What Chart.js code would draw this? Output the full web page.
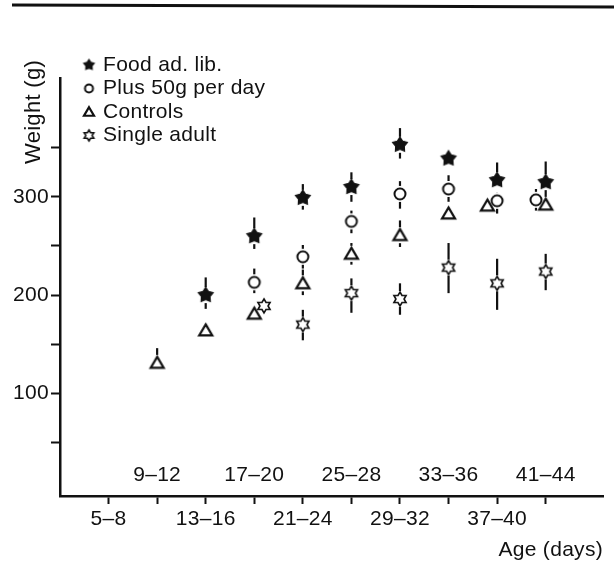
<!DOCTYPE html>
<html lang="en">
<head>
<meta charset="utf-8">
<title>Weight by age</title>
<script src="https://cdn.jsdelivr.net/npm/chart.js@4.4.1/dist/chart.umd.min.js"></script>
<style>
  html, body { margin: 0; padding: 0; background: #fff; }
  #wrap { position: relative; width: 614px; height: 565px; }
</style>
</head>
<body>
<div id="wrap"><canvas id="chart" width="614" height="565"></canvas></div>
<script>
// age groups (days) along the x axis, one per tick
const ageGroups = ['5–8', '9–12', '13–16', '17–20', '21–24', '25–28', '29–32', '33–36', '37–40', '41–44'];

// x = age group index (small nudges where symbols were set side by side)
const foodX = [2, 3, 4, 5, 6, 7, 8, 9];
const foodY = [200, 260, 299, 310, 353, 339, 317, 315];
const foodHi = [218, 279, 313, 325, 370, null, 335, 336];
const foodLo = [186, 247, 287, 295, 339, null, null, 300];

const plusX = [3, 4, 5, 6, 7, 8, 8.8];
const plusY = [213, 239, 275, 303, 308, 296, 297];
const plusHi = [227, 251, 286, 316, 322, 304, 308];
const plusLo = [202, 227, 263, 288, 295, 283, 286];

const ctrlX = [1, 2, 3, 4, 5, 6, 7, 7.8, 9];
const ctrlY = [131, 164, 181, 212, 242, 261, 283, 291, 292];
const ctrlHi = [146, null, null, 226, 253, 276, null, null, null];
const ctrlLo = [null, null, null, 200, 231, 249, null, null, null];

const singleX = [3.2, 4, 5, 6, 7, 8, 9];
const singleY = [189, 170, 202, 196, 228, 212, 224];
const singleHi = [null, 185, 217, 212, 253, 237, 242];
const singleLo = [null, 154, 182, 180, 202, 185, 205];

const yTicks = [50, 100, 150, 200, 250, 300, 350];
const yLabels = [100, 200, 300];

const FONT = "'Liberation Sans', Arial, Helvetica, sans-serif";
const INK = '#111';

function icon(size, draw) {
  const c = document.createElement('canvas');
  c.width = size; c.height = size;
  const g = c.getContext('2d');
  g.translate(size / 2, size / 2);
  g.strokeStyle = INK; g.fillStyle = INK; g.lineJoin = 'miter';
  draw(g);
  return c;
}
function starPath(g, R, r, n, rot) {
  g.beginPath();
  for (let k = 0; k < n * 2; k++) {
    const rad = k % 2 ? r : R;
    const a = rot + k * Math.PI / n;
    g.lineTo(rad * Math.cos(a), rad * Math.sin(a));
  }
  g.closePath();
}
const mkStar = R => icon(Math.ceil(R * 2 + 4), g => {
  starPath(g, R, R * 0.58, 5, -Math.PI / 2); g.fill(); g.lineWidth = 1.2; g.stroke();
});
const mkCircle = r => icon(Math.ceil(r * 2 + 5), g => {
  g.beginPath(); g.arc(0, 0, r, 0, Math.PI * 2);
  g.fillStyle = '#fff'; g.fill(); g.lineWidth = 2; g.stroke();
});
const mkTri = s => icon(Math.ceil(s * 2 + 6), g => {
  g.beginPath(); g.moveTo(0, -s * 0.95); g.lineTo(s, s * 0.75); g.lineTo(-s, s * 0.75); g.closePath();
  g.fillStyle = '#fff'; g.fill(); g.lineWidth = 2.2; g.stroke();
});
const mkHex = R => icon(Math.ceil(R * 2 + 4), g => {
  starPath(g, R, R / Math.sqrt(3), 6, -Math.PI / 2);
  g.fillStyle = '#fff'; g.fill(); g.lineWidth = 1.6; g.stroke();
});

function pts(xs, ys) { return xs.map((x, i) => ({ x: x, y: ys[i] })); }

const datasets = [
  { label: 'Food ad. lib.', data: pts(foodX, foodY), hi: foodHi, lo: foodLo,
    pointStyle: mkStar(7.8), legendIcon: mkStar(5.5) },
  { label: 'Plus 50g per day', data: pts(plusX, plusY), hi: plusHi, lo: plusLo,
    pointStyle: mkCircle(5.5), legendIcon: mkCircle(4) },
  { label: 'Controls', data: pts(ctrlX, ctrlY), hi: ctrlHi, lo: ctrlLo,
    pointStyle: mkTri(6.5), legendIcon: mkTri(5) },
  { label: 'Single adult', data: pts(singleX, singleY), hi: singleHi, lo: singleLo,
    pointStyle: mkHex(7), legendIcon: mkHex(5.5) }
];

// vertical error bars, broken around the symbol
const errorBars = {
  id: 'errorBars',
  beforeDatasetsDraw(chart) {
    const { ctx, scales: { x, y } } = chart;
    ctx.save();
    ctx.strokeStyle = INK; ctx.lineWidth = 2.2;
    chart.data.datasets.forEach(ds => {
      ds.data.forEach((p, i) => {
        const px = x.getPixelForValue(p.x), py = y.getPixelForValue(p.y);
        const gap = 8;
        if (ds.hi[i] != null) {
          ctx.beginPath(); ctx.moveTo(px, y.getPixelForValue(ds.hi[i])); ctx.lineTo(px, py - gap); ctx.stroke();
        }
        if (ds.lo[i] != null) {
          ctx.beginPath(); ctx.moveTo(px, py + gap); ctx.lineTo(px, y.getPixelForValue(ds.lo[i])); ctx.stroke();
        }
      });
    });
    ctx.restore();
  }
};

// legend in the top-left corner, y title, odd age groups written above the axis
const extras = {
  id: 'extras',
  beforeDraw(chart) { chart.ctx.letterSpacing = '0.3px'; },
  afterDraw(chart) {
    const { ctx, chartArea, scales: { x } } = chart;
    ctx.save();
    ctx.fillStyle = INK;
    ctx.font = '21px ' + FONT;
    ctx.textBaseline = 'middle';

    chart.data.datasets.forEach((ds, i) => {
      const ly = 65 + i * 23.5;
      const img = ds.legendIcon;
      ctx.drawImage(img, 89 - img.width / 2, ly - img.height / 2);
      ctx.textAlign = 'left';
      ctx.fillText(ds.label, 103, ly);
    });

    ctx.textAlign = 'center';
    ageGroups.forEach((lab, i) => {
      if (i % 2 === 1) ctx.fillText(lab, x.getPixelForValue(i), chartArea.bottom - 21);
    });

    ctx.translate(34, 112);
    ctx.rotate(-Math.PI / 2);
    ctx.font = '22px ' + FONT;
    ctx.fillText('Weight (g)', 0, 0);
    ctx.restore();

    // rule at the top of the page
    ctx.save();
    ctx.strokeStyle = INK; ctx.lineWidth = 3;
    ctx.beginPath(); ctx.moveTo(12, 5); ctx.lineTo(614, 7); ctx.stroke();
    ctx.restore();
  }
};

Chart.defaults.font.family = FONT;
Chart.defaults.font.size = 21;
Chart.defaults.color = INK;

new Chart(document.getElementById('chart'), {
  type: 'scatter',
  data: { datasets: datasets },
  options: {
    responsive: false,
    animation: false,
    layout: { padding: { top: 78, right: 11, left: 0, bottom: 0 } },
    plugins: { legend: { display: false }, tooltip: { enabled: false } },
    elements: { point: { radius: 7 } },
    scales: {
      x: {
        type: 'linear', min: -1, max: 10.18,
        afterBuildTicks: s => { s.ticks = ageGroups.map((_, i) => ({ value: i })); },
        afterFit: s => { s.height = 69; },
        ticks: {
          autoSkip: false, maxRotation: 0, padding: 3,
          callback: v => (v % 2 === 0 ? ageGroups[v] : '')
        },
        grid: { drawOnChartArea: false, tickLength: 8, tickColor: INK, tickWidth: 2 },
        border: { color: INK, width: 2.5 },
        title: { display: true, text: 'Age (days)', align: 'end', padding: { top: 0, bottom: 2 } }
      },
      y: {
        min: -4.5, max: 421,
        afterBuildTicks: s => { s.ticks = yTicks.map(v => ({ value: v })); },
        afterFit: s => { s.width = 60; },
        ticks: {
          padding: 2,
          callback: v => (yLabels.includes(v) ? String(v) : '')
        },
        grid: { drawOnChartArea: false, tickLength: 9, tickColor: INK, tickWidth: 2 },
        border: { color: INK, width: 2.5 }
      }
    }
  },
  plugins: [errorBars, extras]
});
</script>
</body>
</html>
